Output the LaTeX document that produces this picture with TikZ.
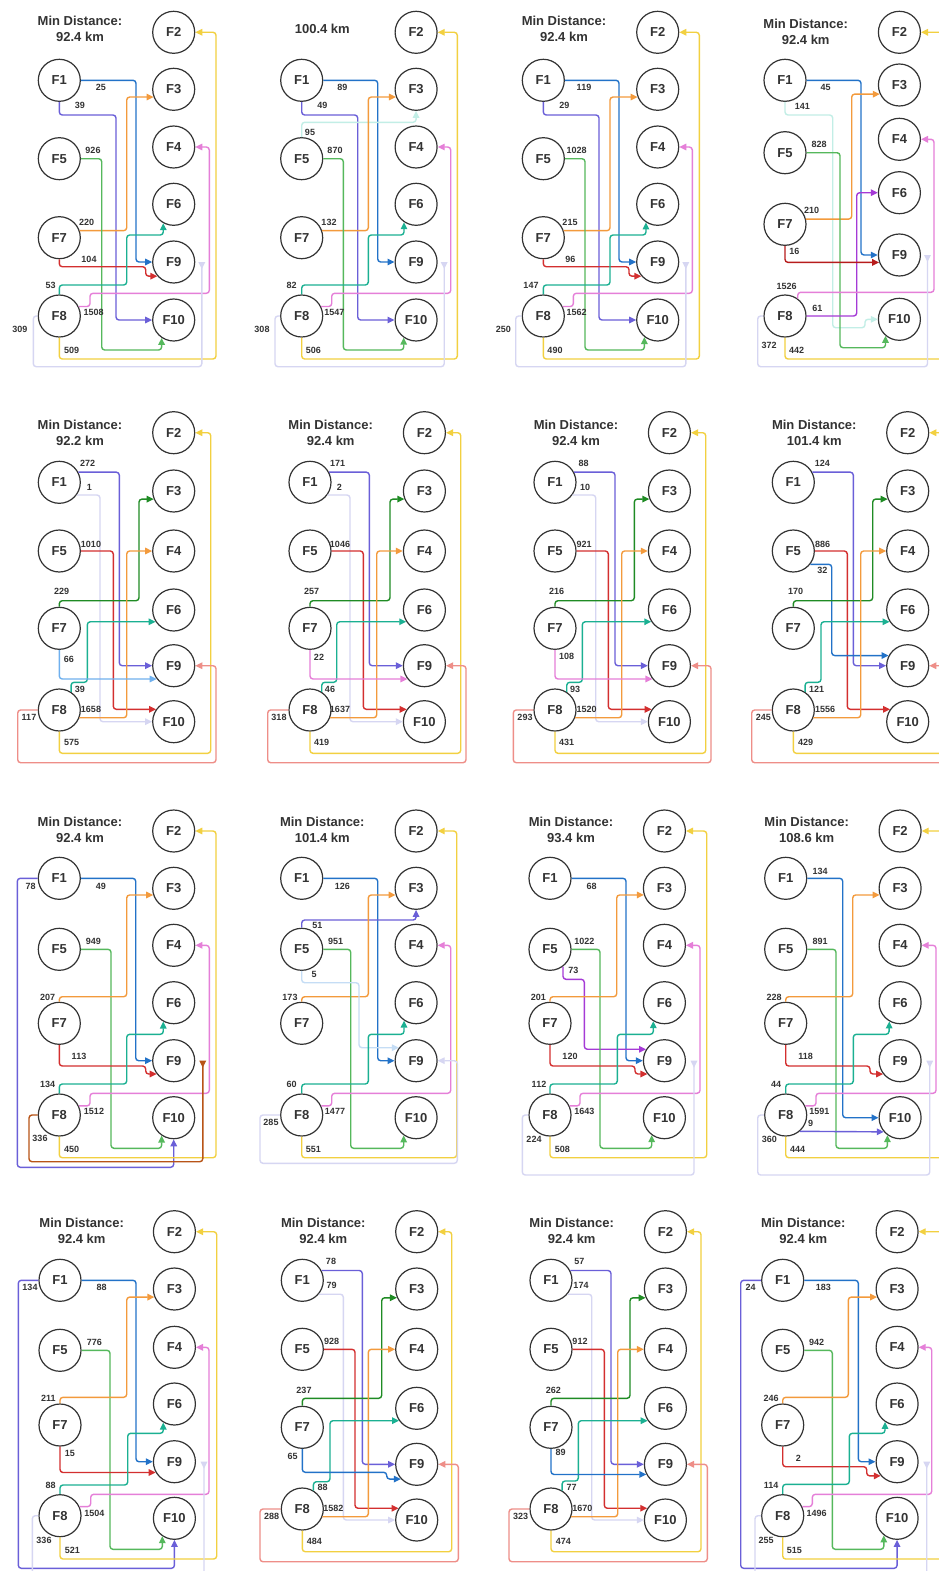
\documentclass[tikz,border=0pt]{standalone}
\usepackage{fontspec}
\setmainfont{Liberation Sans}
\usetikzlibrary{arrows.meta}

\definecolor{ink}{HTML}{333333}
\definecolor{cblue}{HTML}{2272C8}
\definecolor{cindigo}{HTML}{6A5FD8}
\definecolor{corange}{HTML}{F39A3C}
\definecolor{cgreen}{HTML}{55B85C}
\definecolor{cdkgreen}{HTML}{1F8B24}
\definecolor{cred}{HTML}{D32F2F}
\definecolor{cdkred}{HTML}{B71C1C}
\definecolor{cteal}{HTML}{1BB092}
\definecolor{cpink}{HTML}{E57FD8}
\definecolor{cyellow}{HTML}{F2D040}
\definecolor{clav}{HTML}{D6D6F2}
\definecolor{csalmon}{HTML}{EE8E88}
\definecolor{cltblue}{HTML}{6FB0EE}
\definecolor{cpalecyan}{HTML}{C2EEE6}
\definecolor{cpaleblue}{HTML}{C5DDF5}
\definecolor{cpurple}{HTML}{A53AD6}
\definecolor{cbrown}{HTML}{B85417}

\begin{document}
\begin{tikzpicture}[x=1pt, y=-1pt,
  fac/.style={circle, draw=ink, line width=1.2pt, minimum size=42pt, inner sep=0pt,
    text=ink, font=\fontsize{13}{15}\selectfont\bfseries},
  ttl/.style={align=center, text=ink, font=\fontsize{13}{16}\selectfont\bfseries},
  lbl/.style={inner sep=0pt, text=ink, font=\fontsize{9}{10}\selectfont\bfseries},
  link/.style={line width=1.4pt, rounded corners=3pt, -{Triangle[length=7pt,width=6.5pt]}},
  back/.style={line width=1.4pt, rounded corners=3pt, -{Triangle[length=7pt,width=6.5pt,reversed]}}]

  \useasboundingbox (0,0) rectangle (939,1571);
  \fill[white] (0,0) rectangle (939,1571);
  \clip (0,0) rectangle (939,1571);

  % --- Nodes ---
  \foreach \p/\dx in {a/59.3, b/301.7, c/543.3}
    \foreach \n/\col/\y in {1/0/80.3, 2/1/32.3, 3/1/89.3, 4/1/147, 5/0/158.7, 6/1/204.3, 7/0/237.7, 8/0/316, 9/1/262, 10/1/320}
      \node[fac] (\p\n) at (\dx+114.4*\col, \y) {F\n};
  \foreach \n/\col/\y in {1/0/80.3, 2/1/32.3, 3/1/85, 4/1/139.3, 5/0/152.7, 6/1/192.7, 7/0/224.3, 8/0/316, 9/1/255, 10/1/319.3}
    \node[fac] (d\n) at (785+114.4*\col, \y) {F\n};
  \foreach \p/\dx in {e/59.3, f/310, g/555, h/793.3}
    \foreach \n/\col/\y in {1/0/482.3, 2/1/432.7, 3/1/491, 4/1/551, 5/0/551, 6/1/610, 7/0/628.3, 8/0/710, 9/1/665.7, 10/1/721.7}
      \node[fac] (\p\n) at (\dx+114.4*\col, \y) {F\n};
  \foreach \p/\dx in {i/59.3, j/301.7, k/550, l/785.7}
    \foreach \n/\col/\y in {1/0/878.3, 2/1/831, 3/1/888.3, 4/1/945.3, 5/0/949.3, 6/1/1002.7, 7/0/1023.3, 8/0/1115, 9/1/1060.7, 10/1/1117.7}
      \node[fac] (\p\n) at (\dx+114.4*\col, \y) {F\n};
  \foreach \p/\dx in {m/60, p/782.7}
    \foreach \n/\col/\y in {1/0/1280.3, 2/1/1231.7, 3/1/1289, 4/1/1347.3, 5/0/1350.3, 6/1/1404, 7/0/1425, 8/0/1515.7, 9/1/1461.7, 10/1/1518.3}
      \node[fac] (\p\n) at (\dx+114.4*\col, \y) {F\n};
  \foreach \p/\dx in {n/302.3, o/551}
    \foreach \n/\col/\y in {1/0/1280.3, 2/1/1231.7, 3/1/1289, 4/1/1349.3, 5/0/1349.3, 6/1/1408.3, 7/0/1427.3, 8/0/1509, 9/1/1464.3, 10/1/1520}
      \node[fac] (\p\n) at (\dx+114.4*\col, \y) {F\n};

  % --- Titles ---
  \node[ttl] (ahead) at (80,28.7) {Min Distance:\\92.4 km};
  \node[ttl] (bhead) at (322.3,29.3) {100.4 km};
  \node[ttl] (chead) at (564,28.8) {Min Distance:\\92.4 km};
  \node[ttl] (dhead) at (805.7,31.5) {Min Distance:\\92.4 km};
  \node[ttl] (ehead) at (80,432.5) {Min Distance:\\92.2 km};
  \node[ttl] (fhead) at (330.7,432.5) {Min Distance:\\92.4 km};
  \node[ttl] (ghead) at (576,432.5) {Min Distance:\\92.4 km};
  \node[ttl] (hhead) at (814.3,432.5) {Min Distance:\\101.4 km};
  \node[ttl] (ihead) at (80,830.3) {Min Distance:\\92.4 km};
  \node[ttl] (jhead) at (322.3,830.3) {Min Distance:\\101.4 km};
  \node[ttl] (khead) at (571,830.3) {Min Distance:\\93.4 km};
  \node[ttl] (lhead) at (806.7,830.3) {Min Distance:\\108.6 km};
  \node[ttl] (mhead) at (81.7,1230.8) {Min Distance:\\92.4 km};
  \node[ttl] (nhead) at (323.3,1230.8) {Min Distance:\\92.4 km};
  \node[ttl] (ohead) at (571.7,1230.8) {Min Distance:\\92.4 km};
  \node[ttl] (phead) at (803.3,1230.8) {Min Distance:\\92.4 km};

  % --- Panel a ---
  \draw[link, cblue] (a1.east) -| (136,200) |- (a9.west);
  \draw[link, cindigo] (a1.south) |- (116,115) |- (a10.west);
  \draw[link, corange] (a7.19) -| (126.7,150) |- (a3.201);
  \draw[link, cgreen] (a5.east) -| (101.7,350) -| (a10.236);
  \draw[link, cred] (a7.south) |- (145.7,266.7) |- (a9.221);
  \draw[link, cteal] (a8.north) |- (126.7,285) |- (163.3,235) -- (a6.241);
  \draw[link, cpink] (a8.26) -| (90,293.3) -| (209.3,200) |- (a4.east);
  \draw[link, cyellow] (a8.south) |- (216,359) |- (a2.east);
  \draw[back, clav] (a8.west) -| (33.3,366.7) -| ([xshift=6.5pt]a9.east);
  \foreach \nm/\x/\y/\txt in {1t9/101/87.7/25, 1t10/80/105.3/39, 7t3/86.7/222.3/220, 5t10/93/150.7/926, 7t9/89/259/104,
      8t6/50.7/285.3/53, 8t4/93.7/312.7/1508, 8t2/71.7/350/509, 8t9/20/329/309}
    \node[lbl] (a\nm) at (\x,\y) {\txt};

  % --- Panel b ---
  \draw[link, cblue] (b1.east) -| (377.7,200) |- (b9.west);
  \draw[link, cindigo] (b1.south) |- (357.7,115) |- (b10.west);
  \draw[link, cpalecyan] (b5.north) |- (416.1,122.3) -- (b3.south);
  \draw[link, corange] (b7.19) -| (368.3,150) |- (b3.201);
  \draw[link, cgreen] (b5.east) -| (343.3,350) -| (b10.235);
  \draw[link, cteal] (b8.north) |- (368.3,285) |- (404,235) -- (b6.236);
  \draw[link, cpink] (b8.26) -| (331.7,293.3) -| (450.7,200) |- (b4.east);
  \draw[link, cyellow] (b8.south) |- (457.3,359) |- (b2.east);
  \draw[back, clav] (b8.west) -| (275,366.7) -| ([xshift=6.5pt]b9.east);
  \foreach \nm/\x/\y/\txt in {1t9/342.3/87.7/89, 1t10/322.3/105.3/49, 5t3/310/132/95, 7t3/329/222.3/132, 5t10/335/150.7/870,
      8t6/291.7/285.3/82, 8t4/334.3/312.7/1547, 8t2/313.3/350/506, 8t9/262/329/308}
    \node[lbl] (b\nm) at (\x,\y) {\txt};

  % --- Panel c ---
  \draw[link, cblue] (c1.east) -| (619,200) |- (c9.west);
  \draw[link, cindigo] (c1.south) |- (599,115) |- (c10.west);
  \draw[link, corange] (c7.19) -| (610,150) |- (c3.201);
  \draw[link, cgreen] (c5.east) -| (585,350) -| (c10.232);
  \draw[link, cred] (c7.south) |- (629,266.7) |- (c9.221);
  \draw[link, cteal] (c8.north) |- (610,285) |- (646,235) -- (c6.237);
  \draw[link, cpink] (c8.26) -| (573.3,293.3) -| (692.3,200) |- (c4.east);
  \draw[link, cyellow] (c8.south) |- (699.3,359) |- (c2.east);
  \draw[back, clav] (c8.west) -| (515.7,366.7) -| ([xshift=6.5pt]c9.east);
  \foreach \nm/\x/\y/\txt in {1t9/584/87.7/119, 1t10/564.3/105.3/29, 7t3/570/222.3/215, 5t10/576.7/150.7/1028, 7t9/570.3/259/96,
      8t6/531/285.3/147, 8t4/576.7/312.7/1562, 8t2/555/350/490, 8t9/503.3/329/250}
    \node[lbl] (c\nm) at (\x,\y) {\txt};

  % --- Panel d ---
  \draw[link, cblue] (d1.east) -| (861,200) |- (d9.west);
  \draw[link, cpalecyan] (d1.south) |- (832.7,115) |- (865,327.7) |- (d10.west);
  \draw[link, corange] (d7.14) -| (851.7,150) |- (d3.205);
  \draw[link, cgreen] (d5.east) -| (840,347.7) -| (d10.230);
  \draw[link, cpurple] (d8.east) -| (856.7,250) |- (d6.west);
  \draw[link, cdkred] (d7.south) |- (d9.200);
  \draw[link, cpink] (d8.54) |- (934,292.3) |- (d4.east);
  \draw[link, cyellow] (d8.south) |- (945,359) |- (d2.east);
  \draw[back, clav] (d8.west) -| (757.7,366.7) -| ([xshift=6.5pt]d9.east);
  \foreach \nm/\x/\y/\txt in {1t9/825.7/87.7/45, 1t10/802.3/106/141, 7t3/811.7/210/210, 5t10/819/144.3/828, 8t6/817.3/308.3/61,
      7t9/794.3/251/16, 8t4/786.7/286.7/1526, 8t2/796.7/350/442, 8t9/769/345/372}
    \node[lbl] (d\nm) at (\x,\y) {\txt};

  % --- Panel e ---
  \draw[link, cindigo] (e1.28) -| (119.3,600) |- (e9.west);
  \draw[link, clav] (e1.324) -| (100,600) |- (e10.west);
  \draw[link, cred] (e5.east) -| (113.3,650) |- (e10.145);
  \draw[link, cdkgreen] (e7.north) |- (139,600.7) |- (e3.202);
  \draw[link, corange] (e8.339) -| (126.7,650) |- (e4.west);
  \draw[link, cteal] (e8.57) |- (87.3,682.3) |- (e6.213);
  \draw[link, cltblue] (e7.south) |- (e9.218);
  \draw[link, cyellow] (e8.south) |- (210.7,753.3) |- (e2.east);
  \draw[link, csalmon] (e8.west) -| (17.7,762.7) -| (216,700) |- (e9.east);
  \foreach \nm/\x/\y/\txt in {1t9/87.7/463.3/272, 1t10/89.3/487/1, 5t10/91/544/1010, 7t3/61.7/591.7/229, 8t4/91/709.3/1658,
      8t6/80/689/39, 7t9/69/659.3/66, 8t2/71.7/742.7/575, 8t9/29/717.7/117}
    \node[lbl] (e\nm) at (\x,\y) {\txt};

  % --- Panel f ---
  \draw[link, cindigo] (f1.28) -| (369.3,600) |- (f9.west);
  \draw[link, clav] (f1.324) -| (350,600) |- (f10.west);
  \draw[link, cred] (f5.east) -| (363.3,650) |- (f10.145);
  \draw[link, cdkgreen] (f7.north) |- (390,600.7) |- (f3.202);
  \draw[link, corange] (f8.339) -| (376.7,650) |- (f4.west);
  \draw[link, cteal] (f8.57) |- (336.7,682.3) |- (f6.213);
  \draw[link, cpink] (f7.south) |- (f9.218);
  \draw[link, cyellow] (f8.south) |- (460.7,753.3) |- (f2.east);
  \draw[link, csalmon] (f8.west) -| (267.7,762.7) -| (466,700) |- (f9.east);
  \foreach \nm/\x/\y/\txt in {1t9/337.7/463.3/171, 1t10/339.3/487/2, 5t10/340/544/1046, 7t3/311.7/591.7/257, 8t4/340/709.3/1637,
      8t6/330/689/46, 7t9/319/657.7/22, 8t2/321.7/742.7/419, 8t9/279/717.7/318}
    \node[lbl] (f\nm) at (\x,\y) {\txt};

  % --- Panel g ---
  \draw[link, cindigo] (g1.28) -| (615,600) |- (g9.west);
  \draw[link, clav] (g1.324) -| (595.7,600) |- (g10.west);
  \draw[link, cred] (g5.east) -| (608.3,650) |- (g10.145);
  \draw[link, cdkgreen] (g7.north) |- (634.3,600.7) |- (g3.202);
  \draw[link, corange] (g8.339) -| (621.7,650) |- (g4.west);
  \draw[link, cteal] (g8.57) |- (582.3,682.3) |- (g6.213);
  \draw[link, cpink] (g7.south) |- (g9.218);
  \draw[link, cyellow] (g8.south) |- (705.7,753.3) |- (g2.east);
  \draw[link, csalmon] (g8.west) -| (513.3,762.7) -| (711,700) |- (g9.east);
  \foreach \nm/\x/\y/\txt in {1t9/583.7/463.3/88, 1t10/585/487/10, 5t10/584/544/921, 7t3/556.7/591.7/216, 8t4/586.7/709.3/1520,
      8t6/575/689/93, 7t9/566.7/656.7/108, 8t2/566.7/742.7/431, 8t9/525/717.7/293}
    \node[lbl] (g\nm) at (\x,\y) {\txt};

  % --- Panel h ---
  \draw[link, cindigo] (h1.28) -| (853.3,600) |- (h9.west);
  \draw[link, cred] (h5.east) -| (847.3,650) |- (h10.145);
  \draw[link, cblue] (h5.322) -| (831.7,600) |- (h9.152);
  \draw[link, cdkgreen] (h7.north) |- (872.7,600.7) |- (h3.202);
  \draw[link, corange] (h8.339) -| (860.7,650) |- (h4.west);
  \draw[link, cteal] (h8.57) |- (821,682.3) |- (h6.213);
  \draw[link, cyellow] (h8.south) |- (945,753.3) |- (h2.east);
  \draw[link, csalmon] (h8.west) -| (751.7,762.7) -| (950,700) |- (h9.east);
  \foreach \nm/\x/\y/\txt in {1t9/822.3/463.3/124, 5t10/822.7/544/886, 5t9/822.3/570.7/32, 7t3/795.7/591.7/170,
      8t4/825/709.3/1556, 8t6/816.7/689/121, 8t2/805.7/742.7/429, 8t9/763.3/717.7/245}
    \node[lbl] (h\nm) at (\x,\y) {\txt};

  % --- Panel i ---
  \draw[link, cblue] (i1.east) -| (135.7,1000) |- (i9.west);
  \draw[link, cindigo] (i1.west) -| (17.3,1167.3) -| (i10.south);
  \draw[link, cgreen] (i5.east) -| (111,1148.3) -| (i10.236);
  \draw[link, corange] (i7.north) |- (126.7,996.7) |- (i3.198);
  \draw[link, cred] (i7.south) |- (145.7,1066) |- (i9.218);
  \draw[link, cteal] (i8.north) |- (126.7,1084) |- (163.3,1034.3) -- (i6.241);
  \draw[link, cpink] (i8.25) -| (90,1093.3) -| (209.3,1000) |- (i4.east);
  \draw[link, cyellow] (i8.south) |- (216,1157.7) |- (i2.east);
  \draw[back, cbrown] (i8.west) -| (29,1161.7) -| ([xshift=7.5pt]i9.east);
  \foreach \nm/\x/\y/\txt in {1t9/101/886/49, 1t10/30.7/886/78, 5t10/93.3/941.7/949, 7t3/47.7/997.3/207, 7t9/79/1056.7/113,
      8t6/47.7/1084.3/134, 8t4/94/1111.7/1512, 8t2/71.7/1149.3/450, 8t9/40/1138.3/336}
    \node[lbl] (i\nm) at (\x,\y) {\txt};

  % --- Panel j ---
  \draw[link, cblue] (j1.east) -| (377.7,1000) |- (j9.west);
  \draw[link, cindigo] (j5.north) |- (416.1,920) -- (j3.south);
  \draw[link, corange] (j7.north) |- (368.3,996.7) |- (j3.198);
  \draw[link, cgreen] (j5.east) -| (350.7,1148.3) -| (j10.235);
  \draw[link, cpaleblue] (j5.south) |- (359,982.7) |- (j9.143);
  \draw[link, cteal] (j8.north) |- (368.3,1084) |- (404,1034.3) -- (j6.236);
  \draw[link, cpink] (j8.25) -| (331.7,1093.3) -| (450.7,1000) |- (j4.east);
  \draw[link, cyellow] (j8.south) |- (456.7,1157.7) |- (j2.east);
  \draw[link, clav] (j8.west) -| (260,1163.3) -| (457.3,1100) |- (j9.east);
  \foreach \nm/\x/\y/\txt in {1t9/342.3/886/126, 5t3/317.3/925.7/51, 7t3/290/997.3/173, 5t10/335.7/941.7/951, 5t9/314/974.3/5,
      8t6/291.7/1084.3/60, 8t4/335/1111.7/1477, 8t2/313.3/1149.3/551, 8t9/271/1122.7/285}
    \node[lbl] (j\nm) at (\x,\y) {\txt};

  % --- Panel k ---
  \draw[link, cblue] (k1.east) -| (626,1000) |- (k9.west);
  \draw[link, cpurple] (k5.307) |- (584.3,979.3) |- (k9.148);
  \draw[link, cgreen] (k5.east) -| (600,1148.3) -| (k10.234);
  \draw[link, corange] (k7.north) |- (616.7,996.7) |- (k3.198);
  \draw[link, cred] (k7.south) |- (635,1066) |- (k9.218);
  \draw[link, cteal] (k8.north) |- (617.3,1084) |- (653.3,1034.3) -- (k6.239);
  \draw[link, cpink] (k8.25) -| (580,1093.3) -| (700,1000) |- (k4.east);
  \draw[link, cyellow] (k8.south) |- (706.7,1157.7) |- (k2.east);
  \draw[back, clav] (k8.west) -| (522.3,1175) -| ([xshift=8pt]k9.east);
  \foreach \nm/\x/\y/\txt in {1t9/591.7/886/68, 5t9/573.3/970.7/73, 5t10/584.3/941.7/1022, 7t3/538.3/997.3/201, 7t9/570/1056.7/120,
      8t6/539/1084.3/112, 8t4/584.3/1111.7/1643, 8t2/562.3/1149.3/508, 8t9/534/1139.3/224}
    \node[lbl] (k\nm) at (\x,\y) {\txt};

  % --- Panel l ---
  \draw[link, cblue] (l1.east) -| (842.7,1000) |- (l10.west);
  \draw[link, cgreen] (l5.east) -| (836,1148.3) -| (l10.234);
  \draw[link, corange] (l7.north) |- (852.7,996.7) |- (l3.198);
  \draw[link, cred] (l7.south) |- (870,1066) |- (l9.218);
  \draw[link, cteal] (l8.north) |- (853.3,1084) |- (889,1034.3) -- (l6.240);
  \draw[link, cpink] (l8.25) -| (816,1093.3) -| (936,1000) |- (l4.east);
  \draw[link, cindigo] (l8.311) -- (l10.221);
  \draw[link, cyellow] (l8.south) |- (945,1157.7) |- (l2.east);
  \draw[back, clav] (l8.west) -| (757.7,1175) -| ([xshift=8pt]l9.east);
  \foreach \nm/\x/\y/\txt in {1t10/820/871/134, 5t10/820/941.7/891, 7t3/774/997.3/228, 7t9/805.7/1056.7/118, 8t6/776/1084.3/44,
      8t4/819.3/1111.7/1591, 8t10/810.7/1123.3/9, 8t2/797.7/1149.3/444, 8t9/769.3/1139.3/360}
    \node[lbl] (l\nm) at (\x,\y) {\txt};

  % --- Panel m ---
  \draw[link, cblue] (m1.east) -| (136,1400) |- (m9.west);
  \draw[link, cindigo] (m1.west) -| (18.3,1568.3) -| (m10.south);
  \draw[link, cgreen] (m5.east) -| (110,1549.3) -| (m10.236);
  \draw[link, corange] (m7.north) |- (126.7,1397.3) |- (m3.202);
  \draw[link, cred] (m7.south) |- (m9.210);
  \draw[link, cteal] (m8.north) |- (127.7,1485) |- (163.3,1433.3) -- (m6.239);
  \draw[link, cpink] (m8.25) -| (90.7,1494.3) -| (209,1400) |- (m4.east);
  \draw[link, cyellow] (m8.south) |- (216.7,1559) |- (m2.east);
  \draw[back, clav] (m8.west) -| (32.3,1590) -| ([xshift=8pt]m9.east);
  \foreach \nm/\x/\y/\txt in {1t9/101.7/1287.3/88, 1t10/30/1287.3/134, 5t10/94.3/1342.7/776, 7t3/48.3/1398.3/211, 7t9/70/1453.7/15,
      8t6/50.7/1485.7/88, 8t4/94.3/1513.3/1504, 8t2/72.3/1550.7/521, 8t9/44/1540.7/336}
    \node[lbl] (m\nm) at (\x,\y) {\txt};

  % --- Panel n ---
  \draw[link, cindigo] (n1.27) -| (362.3,1400) |- (n9.west);
  \draw[link, clav] (n1.320) -| (343.3,1400) |- (n10.west);
  \draw[link, cred] (n5.east) -| (355,1450) |- (n10.147);
  \draw[link, cdkgreen] (n7.north) |- (381.7,1398.3) |- (n3.204);
  \draw[link, corange] (n8.339) -| (368.3,1450) |- (n4.west);
  \draw[link, cteal] (n8.59) |- (330,1481.7) |- (n6.215);
  \draw[link, cblue] (n7.south) |- (386.7,1472.3) |- (n9.223);
  \draw[link, cyellow] (n8.south) |- (451.7,1551.7) |- (n2.east);
  \draw[link, csalmon] (n8.west) -| (260,1561.7) -| (458.3,1500) |- (n9.east);
  \foreach \nm/\x/\y/\txt in {1t9/331/1261/78, 1t10/331.7/1285.7/79, 5t10/331.7/1341.7/928, 7t3/304/1390.7/237, 8t4/333.3/1508.3/1582,
      8t6/322.7/1487.3/88, 7t9/292.7/1456.7/65, 8t2/314.3/1541.7/484, 8t9/271.7/1516.7/288}
    \node[lbl] (n\nm) at (\x,\y) {\txt};

  % --- Panel o ---
  \draw[link, cindigo] (o1.27) -| (611,1400) |- (o9.west);
  \draw[link, clav] (o1.320) -| (591.7,1400) |- (o10.west);
  \draw[link, cred] (o5.east) -| (604.3,1450) |- (o10.147);
  \draw[link, cdkgreen] (o7.north) |- (630,1398.3) |- (o3.204);
  \draw[link, corange] (o8.339) -| (617.7,1450) |- (o4.west);
  \draw[link, cteal] (o8.59) |- (578.3,1481) |- (o6.215);
  \draw[link, cblue] (o7.south) |- (o9.208);
  \draw[link, cyellow] (o8.south) |- (701,1551.7) |- (o2.east);
  \draw[link, csalmon] (o8.west) -| (509,1561.7) -| (707.3,1500) |- (o9.east);
  \foreach \nm/\x/\y/\txt in {1t9/579.3/1261/57, 1t10/581/1285.7/174, 5t10/580/1341.7/912, 7t3/553.3/1390.7/262, 8t4/582.3/1508.3/1670,
      8t6/571.7/1487.3/77, 7t9/560.7/1452.7/89, 8t2/563.3/1541.7/474, 8t9/520.7/1516.7/323}
    \node[lbl] (o\nm) at (\x,\y) {\txt};

  % --- Panel p ---
  \draw[link, cblue] (p1.east) -| (858.3,1400) |- (p9.west);
  \draw[link, cindigo] (p1.west) -| (740.7,1568.3) -| (p10.south);
  \draw[link, cgreen] (p5.east) -| (832.3,1549.3) -| (p10.232);
  \draw[link, corange] (p7.north) |- (848.3,1397.3) |- (p3.202);
  \draw[link, cred] (p7.south) |- (866.7,1466.7) |- (p9.221);
  \draw[link, cteal] (p8.north) |- (849.3,1484.3) |- (885,1433.3) -- (p6.236);
  \draw[link, cpink] (p8.25) -| (812.3,1494.3) -| (931.7,1400) |- (p4.east);
  \draw[link, cyellow] (p8.south) |- (945,1559) |- (p2.east);
  \draw[back, clav] (p8.west) -| (755,1590) -| ([xshift=8pt]p9.east);
  \foreach \nm/\x/\y/\txt in {1t9/823.3/1287.3/183, 1t10/750.7/1287.3/24, 5t10/816.7/1342.7/942, 7t3/771/1398.3/246, 7t9/798.3/1458.3/2,
      8t6/771/1485.7/114, 8t4/816.7/1513.3/1496, 8t2/794.3/1550.7/515, 8t9/766/1540.7/255}
    \node[lbl] (p\nm) at (\x,\y) {\txt};

\end{tikzpicture}
\end{document}
